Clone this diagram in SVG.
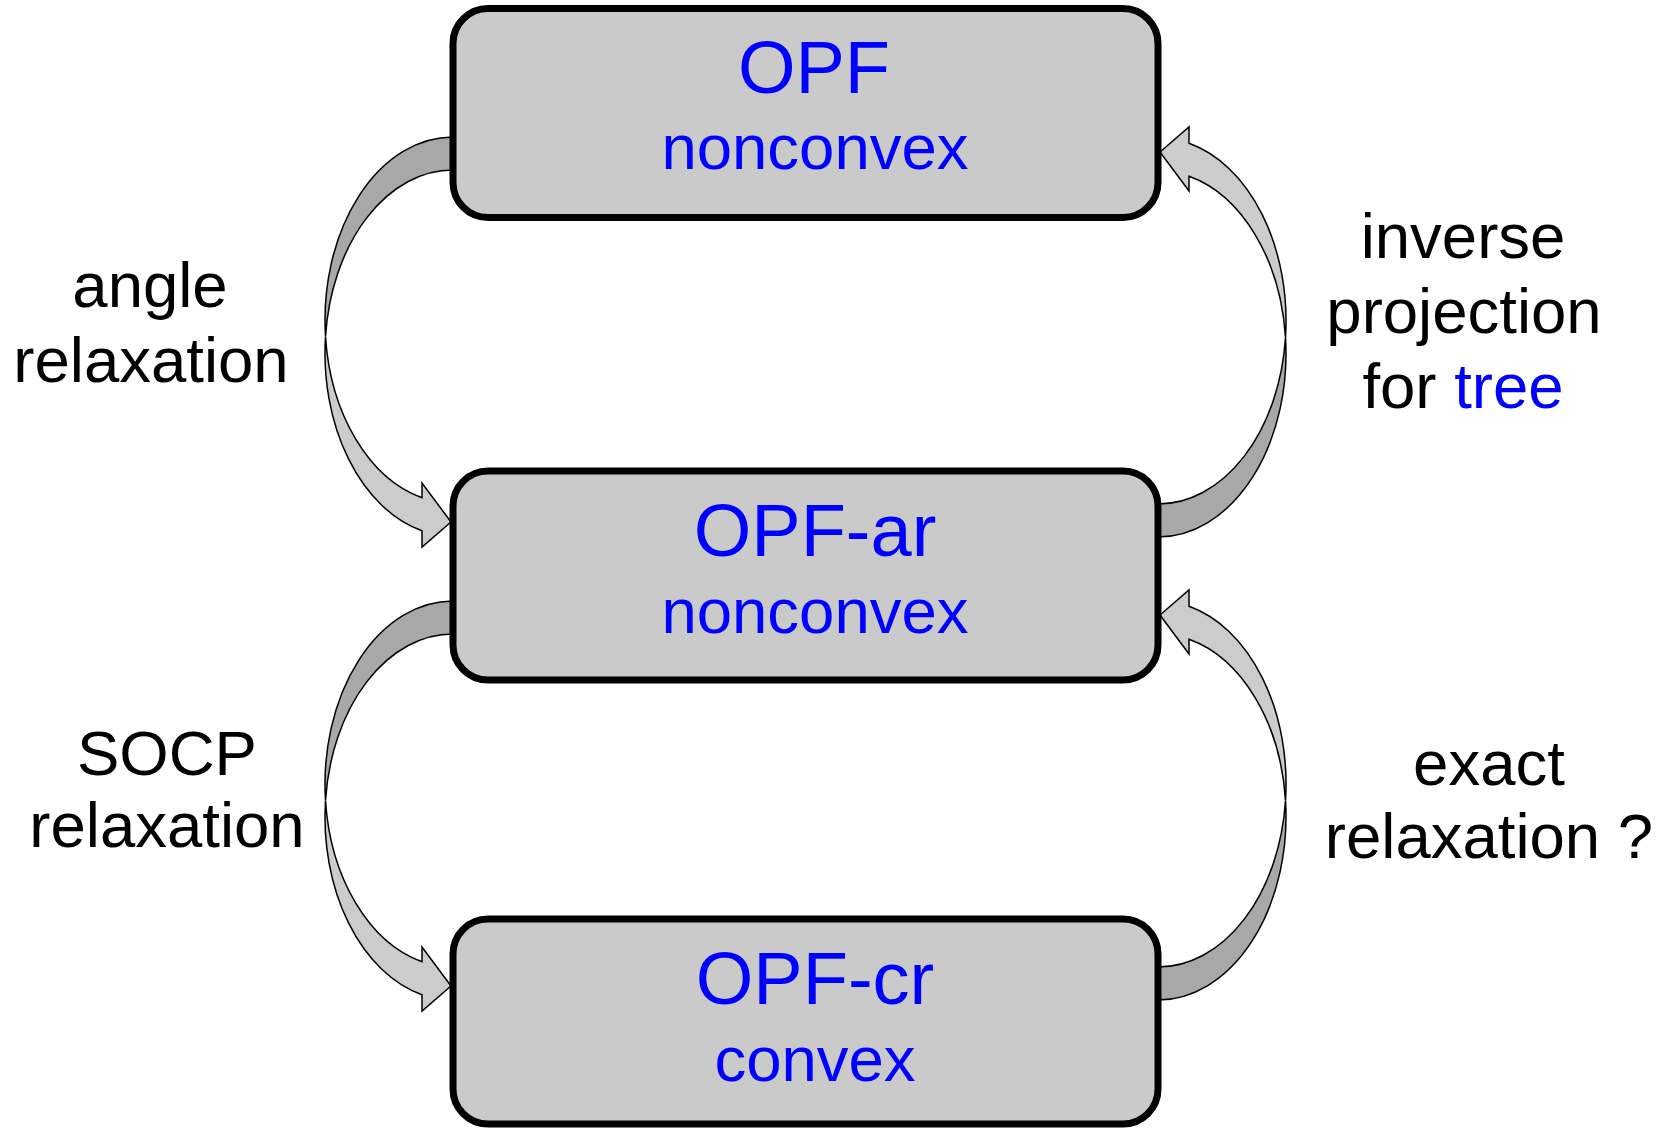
<svg xmlns="http://www.w3.org/2000/svg" width="1671" height="1129" viewBox="0 0 1671 1129">
<style>
.box{fill:#cacaca;stroke:#000;stroke-width:7}
.dark{fill:#a8a8a8;stroke:#000;stroke-width:1.5;stroke-linejoin:miter}
.light{fill:#cccccc;stroke:#000;stroke-width:1.5;stroke-linejoin:miter}
.t{font-family:"Liberation Sans",Arial,sans-serif;text-anchor:middle}
.big{font-size:74px;fill:#0000ff}
.sub{font-size:63.5px;fill:#0000ff}
.lab{font-size:63.5px;fill:#000}
.blue{fill:#0000ff}
</style>
<defs>
<g id="curvedArrow">
<path class="dark" d="M453,137 A128,183.2 0 0 0 325.5,336.5 A128,183.2 0 0 1 453,170 Z"/>
<path class="light" d="M325.5,336.5 A128,183.2 0 0 0 422,530.8 L422,547 L451,522 L422,483 L422,497.8 A128,183.2 0 0 1 325.5,336.5 Z"/>
</g>
</defs>
<g id="connectors">
<use href="#curvedArrow"/>
<use href="#curvedArrow" transform="translate(0,464)"/>
<use href="#curvedArrow" transform="matrix(-1,0,0,-1,1611,674)"/>
<use href="#curvedArrow" transform="matrix(-1,0,0,-1,1611,1137)"/>
</g>
<g id="node-opf">
<rect class="box" x="453" y="8.5" width="705" height="209" rx="35"/>
<text class="t big" x="814" y="93">OPF</text>
<text class="t sub" x="815" y="169">nonconvex</text>
</g>
<g id="node-opf-ar">
<rect class="box" x="453" y="471" width="705" height="209" rx="35"/>
<text class="t big" x="815" y="556">OPF-ar</text>
<text class="t sub" x="815" y="633">nonconvex</text>
</g>
<g id="node-opf-cr">
<rect class="box" x="453" y="919" width="705" height="205" rx="35"/>
<text class="t big" x="815" y="1004">OPF-cr</text>
<text class="t sub" x="815" y="1081">convex</text>
</g>
<g id="label-angle">
<text class="t lab" x="150" y="307">angle</text>
<text class="t lab" x="151" y="382">relaxation</text>
</g>
<g id="label-inverse">
<text class="t lab" x="1463" y="258">inverse</text>
<text class="t lab" x="1464" y="333">projection</text>
<text class="t lab" x="1463" y="408">for <tspan class="blue">tree</tspan></text>
</g>
<g id="label-socp">
<text class="t lab" x="167" y="775">SOCP</text>
<text class="t lab" x="167" y="847">relaxation</text>
</g>
<g id="label-exact">
<text class="t lab" x="1489" y="785">exact</text>
<text class="t lab" x="1489" y="858">relaxation ?</text>
</g>
</svg>
